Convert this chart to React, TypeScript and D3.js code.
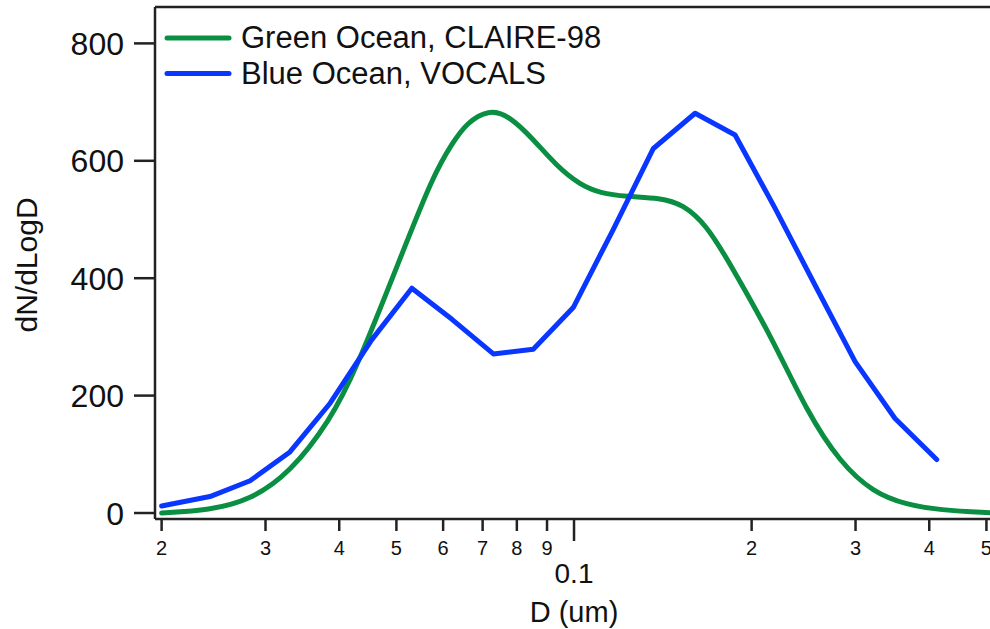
import React from "react";
import * as d3 from "d3";

// Particle size distributions (diameter in um, dN/dLogD)
const greenDiameters = [
  0.02, 0.02415, 0.02825, 0.033, 0.0386, 0.04253, 0.05071, 0.05768, 0.06235,
  0.06576, 0.07157, 0.07789, 0.08522, 0.09348, 0.1024, 0.1107, 0.1228, 0.1399,
  0.153, 0.1679, 0.1838, 0.2175, 0.248, 0.2824, 0.3213, 0.3664, 0.4173, 0.5006,
  0.53,
];
const greenValues = [
  0, 5, 22, 68, 158, 240, 433, 575, 632, 664, 688, 676, 637, 591, 559, 545, 539,
  537, 526, 490, 425, 295, 173, 86, 35, 14, 5, 0.5, 0.3,
];

const blueDiameters = [
  0.02, 0.02415, 0.02825, 0.033, 0.0386, 0.0454, 0.0531, 0.0621, 0.073, 0.0853,
  0.0997, 0.1164, 0.1363, 0.1604, 0.1875, 0.2192, 0.2562, 0.2995, 0.35, 0.4118,
];
const blueValues = [
  12, 28, 55, 104, 187, 295, 383, 330, 271, 279, 350, 482, 621, 681, 644, 519,
  388, 258, 161, 91,
];

const seriesNames = ["Green Ocean, CLAIRE-98", "Blue Ocean, VOCALS"];
const seriesColors = ["#0a8f42", "#0a37ff"];

const yTicks = [0, 200, 400, 600, 800];
const xMinorTicks = [0.02, 0.03, 0.04, 0.05, 0.06, 0.07, 0.08, 0.09, 0.2, 0.3, 0.4, 0.5];
const xMinorLabels = ["2", "3", "4", "5", "6", "7", "8", "9", "2", "3", "4", "5"];
const xMajorTicks = [0.1];
const xMajorLabels = ["0.1"];

const FONT = "'Liberation Sans', Arial, sans-serif";

export default function App() {
  const left = 155;
  const right = 1000;
  const top = 7;
  const bottom = 519;

  const x = d3.scaleLog().domain([0.01949, 0.5272]).range([left, right]);
  const y = d3.scaleLinear().domain([-10.2, 862]).range([bottom, top]);

  const line = d3
    .line<[number, number]>()
    .x((d) => x(d[0]))
    .y((d) => y(d[1]));

  const greenPts = greenDiameters.map((dd, i) => [dd, greenValues[i]] as [number, number]);
  const bluePts = blueDiameters.map((dd, i) => [dd, blueValues[i]] as [number, number]);

  // the green distribution is a fitted, smooth curve; the blue one is measured bins
  const greenPath = line.curve(d3.curveBasis)(greenPts) || "";
  const bluePath = line.curve(d3.curveLinear)(bluePts) || "";

  return (
    <svg
      width={990}
      height={629}
      style={{ position: "absolute", left: 0, top: 0, background: "#fff" }}
      fontFamily={FONT}
    >
      <defs>
        <clipPath id="plot-clip">
          <rect x={left} y={top} width={right - left} height={bottom - top} />
        </clipPath>
      </defs>

      {/* frame */}
      <line x1={left} x2={right} y1={top} y2={top} stroke="#222" strokeWidth={2.5} />
      <line x1={left} x2={left} y1={top} y2={bottom} stroke="#222" strokeWidth={2.5} />
      <line x1={left} x2={right} y1={bottom} y2={bottom} stroke="#222" strokeWidth={2.5} />

      {/* y axis */}
      {yTicks.map((t) => (
        <g key={`y${t}`}>
          <line x1={left - 21} x2={left} y1={y(t)} y2={y(t)} stroke="#222" strokeWidth={2.5} />
          <text
            x={left - 31}
            y={y(t)}
            dy="0.36em"
            textAnchor="end"
            fontSize={32}
            fill="#111"
          >
            {t}
          </text>
        </g>
      ))}
      <text
        transform={`translate(37, 265) rotate(-90)`}
        textAnchor="middle"
        fontSize={30}
        fill="#111"
      >
        dN/dLogD
      </text>

      {/* x axis */}
      {xMinorTicks.map((t, i) => (
        <g key={`xm${i}`}>
          <line x1={x(t)} x2={x(t)} y1={bottom} y2={bottom + 12} stroke="#222" strokeWidth={2.5} />
          <text x={x(t)} y={555} textAnchor="middle" fontSize={20} fill="#111">
            {xMinorLabels[i]}
          </text>
        </g>
      ))}
      {xMajorTicks.map((t, i) => (
        <g key={`xM${i}`}>
          <line x1={x(t)} x2={x(t)} y1={bottom} y2={bottom + 22} stroke="#222" strokeWidth={2.5} />
          <text x={x(t)} y={583} textAnchor="middle" fontSize={28} fill="#111">
            {xMajorLabels[i]}
          </text>
        </g>
      ))}
      <text x={574} y={622} textAnchor="middle" fontSize={29} fill="#111">
        D (um)
      </text>

      {/* series */}
      <g clipPath="url(#plot-clip)" fill="none" strokeLinejoin="round" strokeLinecap="round">
        <path d={greenPath} stroke={seriesColors[0]} strokeWidth={5} />
        <path d={bluePath} stroke={seriesColors[1]} strokeWidth={5} />
      </g>

      {/* legend */}
      {seriesNames.map((name, i) => (
        <g key={name}>
          <line
            x1={167}
            x2={229}
            y1={38 + i * 35.5}
            y2={38 + i * 35.5}
            stroke={seriesColors[i]}
            strokeWidth={5}
            strokeLinecap="round"
          />
          <text x={241} y={48 + i * 35.5} fontSize={31} fill="#111">
            {name}
          </text>
        </g>
      ))}
    </svg>
  );
}
